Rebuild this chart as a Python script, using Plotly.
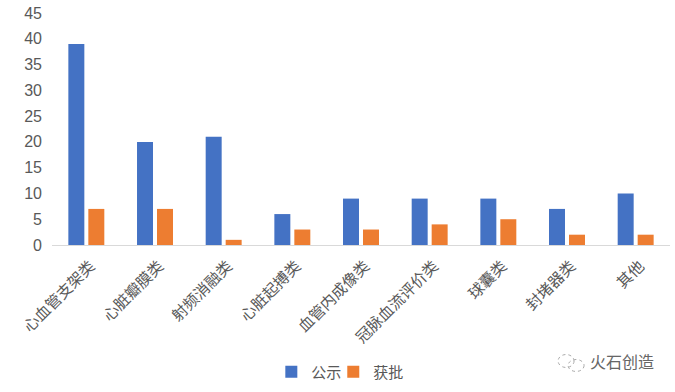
import plotly.graph_objects as go

categories = ["心血管支架类", "心脏瓣膜类", "射频消融类", "心脏起搏类", "血管内成像类",
              "冠脉血流评价类", "球囊类", "封堵器类", "其他"]
gongshi = [39, 20, 21, 6, 9, 9, 9, 7, 10]
huopi = [7, 7, 1, 3, 3, 4, 5, 2, 2]
y_ticks = [0, 5, 10, 15, 20, 25, 30, 35, 40, 45]

CJK = "Noto Sans CJK SC"
GREY = "#595959"
W, H = 675, 392
L, R, T, B = 51.5, 5, 13, 146


def px(x):
    return (x - L) / (W - L - R)


def py(y):
    return (H - B - y) / (H - T - B)


def circle(x0, y0, x1, y1):
    return dict(type="circle", xref="paper", yref="paper", x0=px(x0), x1=px(x1), y0=py(y1), y1=py(y0),
                line=dict(color="#AAAAAA", width=1, dash="dot"), fillcolor="rgba(0,0,0,0)")


def legend_at(x):
    return dict(orientation="h", x=px(x), xanchor="left", y=py(372), yanchor="middle",
                bgcolor="rgba(0,0,0,0)", font=dict(size=15, family=CJK, color=GREY), itemwidth=30)


fig = go.Figure()
fig.add_bar(name="公示", x=categories, y=gongshi, marker=dict(color="#4472C4", line_width=0), legend="legend")
fig.add_bar(name="获批", x=categories, y=huopi, marker=dict(color="#ED7D31", line_width=0), legend="legend2")

fig.update_layout(
    width=W, height=H,
    margin=dict(l=L, r=R, t=T, b=B, pad=0),
    paper_bgcolor="white", plot_bgcolor="white",
    barmode="group", bargap=0.418, bargroupgap=0.2,
    font=dict(family=CJK, color=GREY),
    showlegend=True,
    legend=legend_at(271),
    legend2=legend_at(333),
    annotations=[dict(text="火石创造", xref="paper", yref="paper", x=px(656), y=py(363),
                      xanchor="right", yanchor="middle",
                      showarrow=False, font=dict(size=16, family=CJK, color="#666666"))],
    shapes=[circle(558, 356, 574, 369), circle(568, 361, 584, 373)],
)
fig.update_xaxes(type="category", tickangle=-45, tickfont=dict(size=15.5, family=CJK, color=GREY),
                 showline=True, linecolor="#D9D9D9", linewidth=1, ticks="", showgrid=False,
                 ticklabelstandoff=5, ticklabelshift=4)
fig.update_yaxes(range=[0, 45], tickvals=y_ticks, tickfont=dict(size=16, family="Liberation Sans", color=GREY),
                 showgrid=False, zeroline=False, showline=False, ticks="", ticklabelstandoff=9)

fig.write_html("out.html", config={"displayModeBar": False}, post_script="document.body.style.margin='0';")
